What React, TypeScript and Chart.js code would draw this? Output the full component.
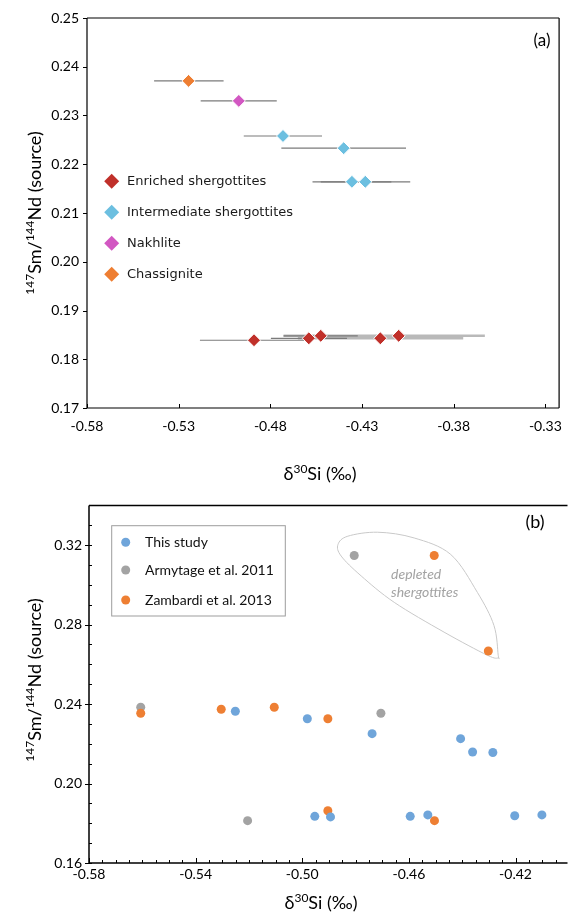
import React, { useEffect, useRef } from 'react';
import { Chart, registerables } from 'chart.js';

Chart.register(...registerables);

// ---------------- Panel (a) ----------------
const aXTicks = [-0.58, -0.53, -0.48, -0.43, -0.38, -0.33];
const aYTicks = [0.17, 0.18, 0.19, 0.2, 0.21, 0.22, 0.23, 0.24, 0.25];

const enrichedX = [-0.4889, -0.459, -0.4525, -0.42, -0.41];
const enrichedY = [0.1839, 0.1843, 0.1848, 0.1843, 0.1848];
const enrichedXLow = [-0.5184, -0.4797, -0.4728, -0.465, -0.4728];
const enrichedXHigh = [-0.4595, -0.4382, -0.4323, -0.3748, -0.363];

const intermediateX = [-0.4731, -0.44, -0.4355, -0.4282];
const intermediateY = [0.2258, 0.2233, 0.2164, 0.2164];
const intermediateXLow = [-0.4945, -0.474, -0.4525, -0.457];
const intermediateXHigh = [-0.4518, -0.406, -0.414, -0.4037];

const nakhliteX = [-0.4972];
const nakhliteY = [0.233];
const nakhliteXLow = [-0.518];
const nakhliteXHigh = [-0.4765];

const chassigniteX = [-0.5246];
const chassigniteY = [0.2371];
const chassigniteXLow = [-0.5434];
const chassigniteXHigh = [-0.5055];

// ---------------- Panel (b) ----------------
const bXTicks = [-0.58, -0.54, -0.5, -0.46, -0.42];
const bYTicks = [0.16, 0.2, 0.24, 0.28, 0.32];

const thisStudyX = [-0.5251, -0.4981, -0.4738, -0.4406, -0.4361, -0.4285, -0.4953, -0.4894, -0.4595, -0.4529, -0.4203, -0.4101];
const thisStudyY = [0.2364, 0.2326, 0.2251, 0.2226, 0.2159, 0.2156, 0.1835, 0.1832, 0.1835, 0.1842, 0.1838, 0.1842];

const armytageX = [-0.4805, -0.5606, -0.4705, -0.5205];
const armytageY = [0.3148, 0.2384, 0.2354, 0.1813];

const zambardiX = [-0.4505, -0.4302, -0.5606, -0.5304, -0.5105, -0.4904, -0.4904, -0.4504];
const zambardiY = [0.3148, 0.2667, 0.2354, 0.2374, 0.2384, 0.2326, 0.1863, 0.1813];

// outline around the depleted shergottites (data coordinates)
const depletedOutlineX = [-0.4866, -0.4829, -0.4717, -0.458, -0.4443, -0.4343, -0.4281, -0.4265, -0.4265, -0.4306, -0.4468, -0.4655, -0.4779, -0.4854];
const depletedOutlineY = [0.3203, 0.3245, 0.3265, 0.3236, 0.3153, 0.2962, 0.2796, 0.2646, 0.2632, 0.2646, 0.2762, 0.2912, 0.3045, 0.3145];

// ---------------- colours ----------------
const RED = '#c0302a';
const CYAN = '#6cbfe0';
const MAGENTA = '#d257c2';
const ORANGE_A = '#ee7e32';
const BLUE = '#6fa5da';
const GREY = '#a3a3a3';
const ORANGE_B = '#ee7f33';

type Pt = { x: number; y: number; xMin?: number; xMax?: number };
function zip(xs: number[], ys: number[], lo?: number[], hi?: number[]): Pt[] {
  return xs.map((x, i) => ({ x, y: ys[i], xMin: lo ? lo[i] : undefined, xMax: hi ? hi[i] : undefined }));
}

type Part = { t: string; sup?: boolean };
function drawRich(ctx: CanvasRenderingContext2D, parts: Part[], cx: number, cy: number, rot: number, size: number, supSize: number, family: string, color: string) {
  ctx.save();
  ctx.translate(cx, cy);
  ctx.rotate(rot);
  const fMain = `${size}px ${family}`;
  const fSup = `${supSize}px ${family}`;
  let total = 0;
  const widths = parts.map((p) => {
    ctx.font = p.sup ? fSup : fMain;
    const w = ctx.measureText(p.t).width;
    total += w;
    return w;
  });
  let x = -total / 2;
  ctx.fillStyle = color;
  ctx.textAlign = 'left';
  ctx.textBaseline = 'alphabetic';
  const base = size * 0.36;
  parts.forEach((p, i) => {
    ctx.font = p.sup ? fSup : fMain;
    ctx.fillText(p.t, x, p.sup ? base - size * 0.4 : base);
    x += widths[i];
  });
  ctx.restore();
}

const errorBarPlugin = {
  id: 'xErrorBars',
  beforeDatasetsDraw(chart: any, _a: any, opts: any) {
    const { ctx, scales } = chart;
    const x = scales.x;
    const y = scales.y;
    const light: Pt[] = [];
    const dark: Pt[] = [];
    chart.data.datasets.forEach((ds: any, di: number) => {
      ds.data.forEach((p: Pt, pi: number) => {
        if (p.xMin == null || p.xMax == null) return;
        ((opts.light || []).includes(`${di}:${pi}`) ? light : dark).push(p);
      });
    });
    const drawSet = (arr: Pt[], color: string, w: number) => {
      ctx.strokeStyle = color;
      ctx.lineWidth = w;
      arr.forEach((p) => {
        const py = y.getPixelForValue(p.y);
        ctx.beginPath();
        ctx.moveTo(x.getPixelForValue(p.xMin), py);
        ctx.lineTo(x.getPixelForValue(p.xMax), py);
        ctx.stroke();
      });
    };
    ctx.save();
    drawSet(light, '#b9b9b9', 2.5);
    drawSet(dark, '#7b7b7b', 1.2);
    ctx.restore();
  },
};

const framePlugin = {
  id: 'frame',
  afterDraw(chart: any, _a: any, opts: any) {
    const { ctx, chartArea, scales } = chart;
    const { left, right, top, bottom } = chartArea;
    const x = scales.x;
    const y = scales.y;
    ctx.save();
    ctx.strokeStyle = '#000';
    ctx.lineWidth = opts.lineWidth;
    ctx.beginPath();
    ctx.moveTo(left, top);
    ctx.lineTo(right, top);
    if (opts.right) {
      ctx.moveTo(right, top);
      ctx.lineTo(right, bottom);
    }
    ctx.moveTo(left, top);
    ctx.lineTo(left, bottom);
    ctx.lineTo(right, bottom);
    ctx.stroke();
    ctx.lineWidth = 1;
    (opts.xTicks || []).forEach((t: any) => {
      t.values.forEach((v: number) => {
        const px = Math.round(x.getPixelForValue(v)) + 0.5;
        ctx.beginPath();
        ctx.moveTo(px, bottom);
        ctx.lineTo(px, t.inward ? bottom - t.len : bottom + t.len);
        ctx.stroke();
      });
    });
    (opts.yTicks || []).forEach((t: any) => {
      t.values.forEach((v: number) => {
        const py = Math.round(y.getPixelForValue(v)) + 0.5;
        ctx.beginPath();
        ctx.moveTo(left, py);
        ctx.lineTo(t.inward ? left + t.len : left - t.len, py);
        ctx.stroke();
      });
    });
    ctx.restore();
  },
};

const textPlugin = {
  id: 'texts',
  afterDraw(chart: any, _a: any, opts: any) {
    const { ctx } = chart;
    (opts.rich || []).forEach((r: any) => {
      drawRich(ctx, r.parts, r.x, r.y, r.rot || 0, r.size, r.supSize, r.family, r.color || '#000');
    });
    (opts.plain || []).forEach((p: any) => {
      ctx.save();
      ctx.font = p.font;
      ctx.fillStyle = p.color || '#000';
      ctx.textAlign = p.align || 'center';
      ctx.textBaseline = 'middle';
      ctx.fillText(p.text, p.x, p.y);
      ctx.restore();
    });
  },
};

const legendAPlugin = {
  id: 'legendA',
  afterDraw(chart: any, _a: any, opts: any) {
    const { ctx } = chart;
    ctx.save();
    chart.data.datasets.forEach((ds: any, i: number) => {
      const cy = opts.y0 + i * opts.dy;
      const r = opts.r;
      ctx.fillStyle = ds.backgroundColor;
      ctx.beginPath();
      ctx.moveTo(opts.mx - r, cy);
      ctx.lineTo(opts.mx, cy - r);
      ctx.lineTo(opts.mx + r, cy);
      ctx.lineTo(opts.mx, cy + r);
      ctx.closePath();
      ctx.fill();
      ctx.font = opts.font;
      ctx.fillStyle = '#1a1a1a';
      ctx.textAlign = 'left';
      ctx.textBaseline = 'middle';
      ctx.fillText(ds.label, opts.tx, cy + 0.5);
    });
    ctx.restore();
  },
};

const legendBPlugin = {
  id: 'legendB',
  afterDraw(chart: any, _a: any, opts: any) {
    const { ctx } = chart;
    ctx.save();
    ctx.strokeStyle = '#9d9d9d';
    ctx.lineWidth = 1;
    ctx.strokeRect(opts.box[0], opts.box[1], opts.box[2], opts.box[3]);
    chart.data.datasets.forEach((ds: any, i: number) => {
      const cy = opts.rows[i];
      ctx.fillStyle = ds.backgroundColor;
      ctx.beginPath();
      ctx.arc(opts.mx, cy, opts.r, 0, Math.PI * 2);
      ctx.fill();
      ctx.font = opts.font;
      ctx.fillStyle = '#111';
      ctx.textAlign = 'left';
      ctx.textBaseline = 'middle';
      ctx.fillText(ds.label, opts.tx, cy);
    });
    ctx.restore();
  },
};

const outlinePlugin = {
  id: 'outline',
  beforeDatasetsDraw(chart: any, _a: any, opts: any) {
    const { ctx, scales } = chart;
    const x = scales.x;
    const y = scales.y;
    const pts = depletedOutlineX.map((v, i) => [x.getPixelForValue(v), y.getPixelForValue(depletedOutlineY[i])]);
    const n = pts.length;
    ctx.save();
    ctx.strokeStyle = '#c9c9c9';
    ctx.lineWidth = 1;
    ctx.beginPath();
    ctx.moveTo(pts[0][0], pts[0][1]);
    for (let i = 0; i < n; i++) {
      const p0 = pts[(i - 1 + n) % n];
      const p1 = pts[i];
      const p2 = pts[(i + 1) % n];
      const p3 = pts[(i + 2) % n];
      ctx.bezierCurveTo(
        p1[0] + (p2[0] - p0[0]) / 6, p1[1] + (p2[1] - p0[1]) / 6,
        p2[0] - (p3[0] - p1[0]) / 6, p2[1] - (p3[1] - p1[1]) / 6,
        p2[0], p2[1]
      );
    }
    ctx.closePath();
    ctx.stroke();
    ctx.font = opts.font;
    ctx.fillStyle = '#a3a3a3';
    ctx.textAlign = 'left';
    ctx.textBaseline = 'middle';
    opts.lines.forEach((l: any) => {
      ctx.fillText(l.text, x.getPixelForValue(l.x), y.getPixelForValue(l.y));
    });
    ctx.restore();
  },
};

const TICK_FONT = { family: 'Lato', size: 14 };
const fmt2 = (v: any) => Number(v).toFixed(2);

function range(a: number, b: number, step: number): number[] {
  const out: number[] = [];
  const n = Math.round((b - a) / step);
  for (let i = 0; i <= n; i++) out.push(Number((a + i * step).toFixed(4)));
  return out;
}

export default function App() {
  const refA = useRef<HTMLCanvasElement>(null);
  const refB = useRef<HTMLCanvasElement>(null);

  useEffect(() => {
    const chartA = new Chart(refA.current as HTMLCanvasElement, {
      type: 'scatter',
      data: {
        datasets: [
          { label: 'Enriched shergottites', data: zip(enrichedX, enrichedY, enrichedXLow, enrichedXHigh), backgroundColor: RED, borderColor: '#ffffff', borderWidth: 1, pointStyle: 'rectRot', pointRadius: 6.5 },
          { label: 'Intermediate shergottites', data: zip(intermediateX, intermediateY, intermediateXLow, intermediateXHigh), backgroundColor: CYAN, borderColor: '#ffffff', borderWidth: 1, pointStyle: 'rectRot', pointRadius: 6.5 },
          { label: 'Nakhlite', data: zip(nakhliteX, nakhliteY, nakhliteXLow, nakhliteXHigh), backgroundColor: MAGENTA, borderColor: '#ffffff', borderWidth: 1, pointStyle: 'rectRot', pointRadius: 6.5 },
          { label: 'Chassignite', data: zip(chassigniteX, chassigniteY, chassigniteXLow, chassigniteXHigh), backgroundColor: ORANGE_A, borderColor: '#ffffff', borderWidth: 1, pointStyle: 'rectRot', pointRadius: 6.5 },
        ],
      } as any,
      options: {
        animation: false,
        responsive: false,
        devicePixelRatio: 1,
        events: [],
        layout: { padding: { top: 18, right: 5, left: 0, bottom: 0 } },
        scales: {
          x: {
            type: 'linear', min: -0.58, max: -0.3225,
            grid: { display: false, drawTicks: false }, border: { display: false },
            afterBuildTicks: (s: any) => { s.ticks = aXTicks.map((v) => ({ value: v })); },
            afterFit: (s: any) => { s.height = 82; },
            ticks: { callback: fmt2, font: TICK_FONT, color: '#000', padding: 10, maxRotation: 0, autoSkip: false },
          },
          y: {
            type: 'linear', min: 0.17, max: 0.25,
            grid: { display: false, drawTicks: false }, border: { display: false },
            afterBuildTicks: (s: any) => { s.ticks = aYTicks.map((v) => ({ value: v })); },
            afterFit: (s: any) => { s.width = 87; },
            ticks: { callback: fmt2, font: TICK_FONT, color: '#000', padding: 8, autoSkip: false },
          },
        },
        plugins: {
          legend: { display: false },
          tooltip: { enabled: false },
          xErrorBars: { light: ['0:3', '0:4'] },
          frame: {
            lineWidth: 1.2, right: true,
            xTicks: [{ values: aXTicks, len: 4, inward: true }],
            yTicks: [{ values: aYTicks, len: 4, inward: false }],
          },
          legendA: { mx: 111.7, tx: 127, y0: 181.3, dy: 31, r: 7.5, font: '13px "DejaVu Sans"' },
          texts: {
            rich: [
              { parts: [{ t: 'δ' }, { t: '30', sup: true }, { t: 'Si (‰)' }], x: 320, y: 474, size: 18, supSize: 12, family: 'Lato' },
              { parts: [{ t: '147', sup: true }, { t: 'Sm/' }, { t: '144', sup: true }, { t: 'Nd (source)' }], x: 35, y: 213, rot: -Math.PI / 2, size: 18, supSize: 12, family: 'Lato' },
            ],
            plain: [{ text: '(a)', x: 542, y: 41, font: '17px Lato' }],
          },
        } as any,
      },
      plugins: [errorBarPlugin, framePlugin, legendAPlugin, textPlugin],
    } as any);

    const chartB = new Chart(refB.current as HTMLCanvasElement, {
      type: 'scatter',
      data: {
        datasets: [
          { label: 'This study', data: zip(thisStudyX, thisStudyY), backgroundColor: BLUE, borderWidth: 0, pointRadius: 4.5 },
          { label: 'Armytage et al. 2011', data: zip(armytageX, armytageY), backgroundColor: GREY, borderWidth: 0, pointRadius: 4.5, order: 2 },
          { label: 'Zambardi et al. 2013', data: zip(zambardiX, zambardiY), backgroundColor: ORANGE_B, borderWidth: 0, pointRadius: 4.5, order: 1 },
        ],
      } as any,
      options: {
        animation: false,
        responsive: false,
        devicePixelRatio: 1,
        events: [],
        layout: { padding: { top: 12, right: 2, left: 0, bottom: 0 } },
        scales: {
          x: {
            type: 'linear', min: -0.58, max: -0.4005,
            grid: { display: false, drawTicks: false }, border: { display: false },
            afterBuildTicks: (s: any) => { s.ticks = bXTicks.map((v) => ({ value: v })); },
            afterFit: (s: any) => { s.height = 50; },
            ticks: { callback: fmt2, font: TICK_FONT, color: '#000', padding: 3, maxRotation: 0, autoSkip: false },
          },
          y: {
            type: 'linear', min: 0.16, max: 0.34,
            grid: { display: false, drawTicks: false }, border: { display: false },
            afterBuildTicks: (s: any) => { s.ticks = bYTicks.map((v) => ({ value: v })); },
            afterFit: (s: any) => { s.width = 89; },
            ticks: { callback: fmt2, font: TICK_FONT, color: '#000', padding: 7, autoSkip: false },
          },
        },
        plugins: {
          legend: { display: false },
          tooltip: { enabled: false },
          frame: {
            lineWidth: 1.5, right: false,
            xTicks: [{ values: range(-0.58, -0.405, 0.005), len: 3, inward: true }, { values: bXTicks, len: 5, inward: true }],
            yTicks: [{ values: range(0.16, 0.34, 0.01), len: 3, inward: true }, { values: bYTicks, len: 4, inward: false }],
          },
          legendB: { box: [111.7, 35.7, 173.6, 90.3], mx: 125.7, tx: 145, rows: [52.3, 80, 110], r: 4.5, font: '14px Lato' },
          outline: {
            font: 'italic 14px Lato',
            lines: [
              { text: 'depleted', x: -0.4667, y: 0.3053 },
              { text: 'shergottites', x: -0.4667, y: 0.2962 },
            ],
          },
          texts: {
            rich: [
              { parts: [{ t: 'δ' }, { t: '30', sup: true }, { t: 'Si (‰)' }], x: 321, y: 413, size: 18, supSize: 12, family: 'Lato' },
              { parts: [{ t: '147', sup: true }, { t: 'Sm/' }, { t: '144', sup: true }, { t: 'Nd (source)' }], x: 35, y: 190, rot: -Math.PI / 2, size: 18, supSize: 12, family: 'Lato' },
            ],
            plain: [{ text: '(b)', x: 535, y: 32, font: '18px Lato' }],
          },
        } as any,
      },
      plugins: [outlinePlugin, framePlugin, legendBPlugin, textPlugin],
    } as any);

    return () => {
      chartA.destroy();
      chartB.destroy();
    };
  }, []);

  return (
    <div style={{ position: 'absolute', left: 0, top: 0, width: 572, height: 913, background: '#ffffff' }}>
      <canvas ref={refA} width={572} height={490} style={{ position: 'absolute', left: 0, top: 0, width: 572, height: 490, display: 'block' }} />
      <canvas ref={refB} width={572} height={423} style={{ position: 'absolute', left: 0, top: 490, width: 572, height: 423, display: 'block' }} />
    </div>
  );
}
